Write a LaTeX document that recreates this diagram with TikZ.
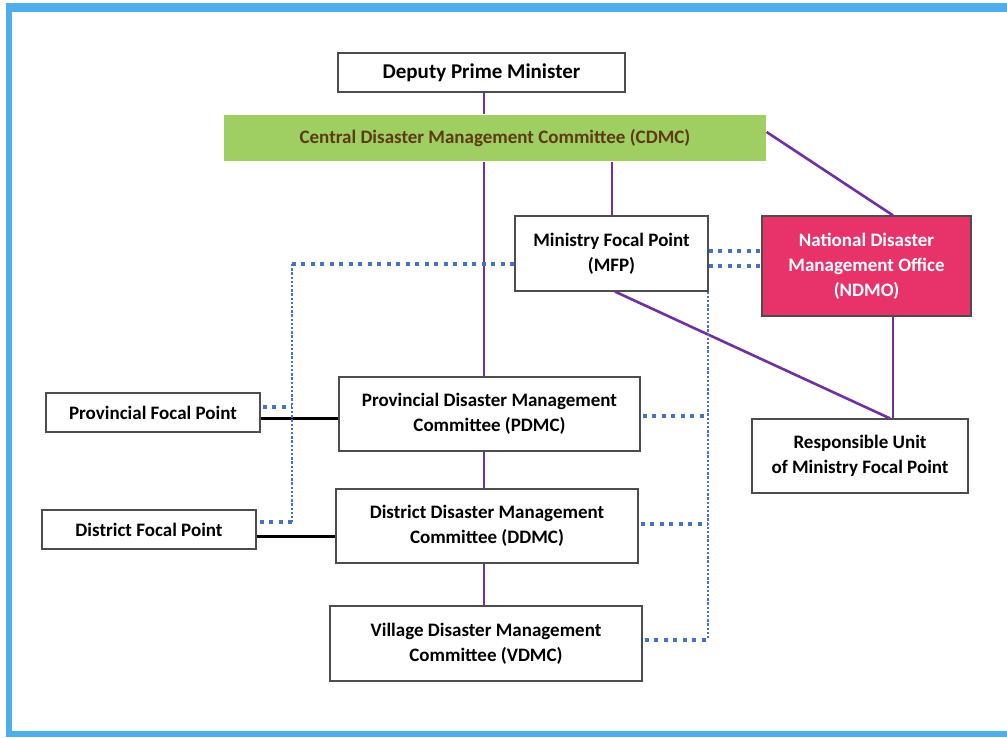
\documentclass[tikz,border=0pt]{standalone}
\usepackage{fontspec}
\setmainfont{Carlito}
\definecolor{frameblue}{HTML}{4FADEA}
\definecolor{purp}{HTML}{7030A0}
\definecolor{dotblue}{HTML}{4472C4}
\definecolor{cgreen}{HTML}{9FCF62}
\definecolor{cbrown}{HTML}{5C3A12}
\definecolor{npink}{HTML}{E8336A}
\definecolor{bgray}{HTML}{4D4D4D}
\begin{document}
\begin{tikzpicture}[x=1pt,y=-1pt,
  box/.style={draw=bgray,line width=1.2pt,fill=white,align=center,inner sep=0pt,
    font=\fontsize{19}{25}\selectfont\bfseries},
  purpleline/.style={draw=purp,line width=2.6pt},
  blackline/.style={draw=black,line width=2.6pt},
  thickdot/.style={draw=dotblue,line width=3.6pt,dash pattern=on 4pt off 5.5pt},
  finedot/.style={draw=dotblue,line width=2.4pt,dash pattern=on 2.4pt off 1.8pt}]
\useasboundingbox (0,0) rectangle (1007,737);
\fill[white] (0,0) rectangle (1007,737);
% frame
\fill[frameblue] (6,3) rectangle (1007,12);
\fill[frameblue] (6,3) rectangle (12,737);
\fill[frameblue] (6,731) rectangle (1007,737);
% nodes
\node[box,font=\fontsize{21}{25}\selectfont\bfseries,minimum width=287pt,minimum height=39pt] (dpm) at (481.5,72.5) {Deputy Prime Minister};
\node[box,draw=none,fill=cgreen,text=cbrown,minimum width=542pt,minimum height=46pt] (cdmc) at (495,138) {Central Disaster Management Committee (CDMC)};
\node[box,minimum width=193pt,minimum height=75pt] (mfp) at (611.5,253.5) {Ministry Focal Point\\(MFP)};
\node[box,fill=npink,text=white,minimum width=209pt,minimum height=100pt] (ndmo) at (866.5,266) {National Disaster\\Management Office\\(NDMO)};
\node[box,minimum width=214pt,minimum height=39pt] (pfp) at (153,412.5) {Provincial Focal Point};
\node[box,minimum width=301pt,minimum height=74pt] (pdmc) at (489.5,414) {Provincial Disaster Management\\Committee (PDMC)};
\node[box,minimum width=216pt,minimum height=74pt] (ru) at (860,456) {Responsible Unit\\of Ministry Focal Point};
\node[box,minimum width=214pt,minimum height=39pt] (dfp) at (149,529.5) {District Focal Point};
\node[box,minimum width=302pt,minimum height=74pt] (ddmc) at (487,526) {District Disaster Management\\Committee (DDMC)};
\node[box,minimum width=312pt,minimum height=75pt] (vdmc) at (486,643.5) {Village Disaster Management\\Committee (VDMC)};
% helper coordinates
\coordinate (lx) at (484,0);
\coordinate (mx) at (612,0);
\coordinate (nx) at (893,0);
\coordinate (c1) at (0,132);
\coordinate (m1) at (615,0);
\coordinate (r1) at (890,0);
\coordinate (dx) at (292,0);
\coordinate (vx) at (708,0);
\coordinate (yl) at (0,264);
\coordinate (yp) at (0,407);
\coordinate (yd) at (0,522);
\coordinate (ya) at (0,251);
\coordinate (yb) at (0,266);
\coordinate (y1) at (0,416);
\coordinate (y2) at (0,524);
\coordinate (y3) at (0,640);
% purple lines
\draw[purpleline] (dpm.south -| lx) -- (cdmc.north -| lx);
\draw[purpleline] (cdmc.south -| lx) -- (pdmc.north -| lx);
\draw[purpleline] (cdmc.south -| mx) -- (mfp.north -| mx);
\draw[purpleline] (cdmc.east |- c1) -- (ndmo.north -| nx);
\draw[purpleline] (mfp.south -| m1) -- (ru.north -| r1);
\draw[purpleline] (ndmo.south -| nx) -- (ru.north -| nx);
\draw[purpleline] (pdmc.south -| lx) -- (ddmc.north -| lx);
\draw[purpleline] (ddmc.south -| lx) -- (vdmc.north -| lx);
% black lines
\draw[blackline] (pfp.east) ++(0,6) coordinate (pe) -- (pdmc.west |- pe);
\draw[blackline] (dfp.east) ++(0,7) coordinate (de) -- (ddmc.west |- de);
% blue dotted
\draw[thickdot] (mfp.west |- yl) -- (dx |- yl);
\draw[finedot] (dx |- yl) -- (dx |- yd);
\draw[thickdot] (dx |- yd) -- ([xshift=2pt]dfp.east |- yd);
\draw[thickdot] ([xshift=2pt]pfp.east |- yp) -- (dx |- yp);
\draw[thickdot] (mfp.east |- ya) -- (ndmo.west |- ya);
\draw[thickdot] (mfp.east |- yb) -- (ndmo.west |- yb);
\draw[finedot] (mfp.south -| vx) -- (vx |- y3);
\draw[thickdot] ([xshift=2pt]pdmc.east |- y1) -- (vx |- y1);
\draw[thickdot] ([xshift=2pt]ddmc.east |- y2) -- (vx |- y2);
\draw[thickdot] ([xshift=2pt]vdmc.east |- y3) -- (vx |- y3);
\end{tikzpicture}
\end{document}
